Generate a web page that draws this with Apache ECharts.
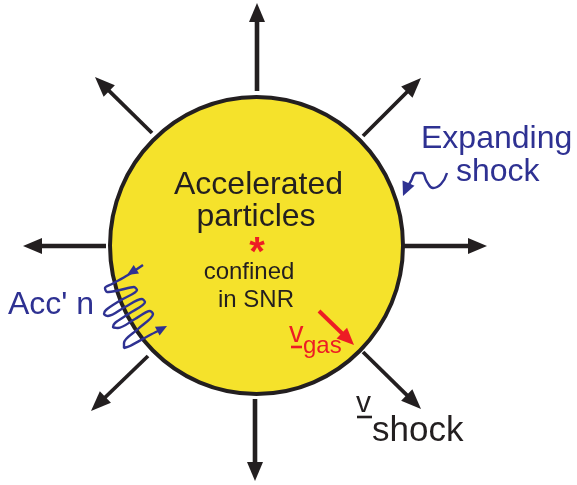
<!DOCTYPE html>
<html>
<head>
<meta charset="utf-8">
<script src="https://cdn.jsdelivr.net/npm/echarts@6/dist/echarts.min.js"></script>
<style>
  html, body { margin: 0; padding: 0; background: #fff; }
  #main { width: 577px; height: 485px; }
</style>
</head>
<body>
<div id="main"></div>
<script>
// ---- diagram data (picture coordinates, y downwards) ----
// remnant shell: centre x, centre y, radius x, radius y
var shell = [[256.5, 245.5, 146.5, 148.5]];

// shock arrows: from x, from y, tip x, tip y
var shockArrows = [
  [257, 91, 257, 3],
  [255, 399, 255, 481],
  [106, 246, 23, 246],
  [404, 246, 487, 246]
];
var shockDiagonals = [
  [152, 133, 95, 77],
  [363, 136, 421, 78],
  [148, 356, 91, 411],
  [363, 352, 421, 409]
];
var gasArrow = [[319, 311, 354, 345]];

// acceleration coil path (traced)
var coil = [
  [143, 265], [128, 275], [112, 284], [105, 288], [107, 292], [120, 290], [134, 287],
  [137, 290], [121, 300], [106, 310], [104, 314], [108, 316], [125, 307], [142, 299],
  [145, 302], [130, 313], [115, 323], [113, 327], [118, 328], [135, 319], [150, 311],
  [153, 314], [138, 329], [124, 343], [124, 348], [130, 346], [150, 335], [158, 331]
];
// wavy pointer next to "Expanding shock"
var wave = [
  [447, 173], [441, 184], [433, 188], [427, 182], [422, 173], [416, 173], [411, 181], [408, 186]
];
// small arrowheads: tip x, tip y, from x, from y
var coilHeads = [[127, 275, 143, 265], [167, 326, 150, 335]];
var waveHeads = [[403, 196, 409, 182]];

// text: string, anchor x, baseline y
var labelText = ['Accelerated', 'particles', 'confined', 'in SNR', 'Expanding', 'shock', "Acc' n", 'v', 'gas', 'v', 'shock', '*'];
var labelPos = [
  [258.5, 195], [256, 227], [249, 280], [256, 308], [421, 149], [456, 182],
  [8, 315], [289, 343], [303, 354], [356, 413], [372, 442], [257, 266]
];
// underlines: x1, x2, y
var underRed = [[291, 302, 347]];
var underInk = [[357, 372, 417]];

var ink = '#231f20', blue = '#2e3192', red = '#ed1c24', yellow = '#f5e22b';
var FONT = "'Liberation Sans', Arial, sans-serif";
var labelLook = [
  [32, ink, 'center', 'normal'], [32, ink, 'center', 'normal'],
  [24, ink, 'center', 'normal'], [24, ink, 'center', 'normal'],
  [32, blue, 'left', 'normal'], [32, blue, 'left', 'normal'], [32, blue, 'left', 'normal'],
  [29, red, 'left', 'normal'], [24, red, 'left', 'normal'],
  [30, ink, 'left', 'normal'], [35, ink, 'left', 'normal'],
  [40, red, 'center', 'bold']
];

function arrowItem(width, headLen, headHalf, color) {
  return function (params, api) {
    var a = api.coord([api.value(0), api.value(1)]);
    var b = api.coord([api.value(2), api.value(3)]);
    var dx = b[0] - a[0], dy = b[1] - a[1];
    var L = Math.sqrt(dx * dx + dy * dy);
    var ux = dx / L, uy = dy / L;
    var bx = b[0] - ux * headLen, by = b[1] - uy * headLen;
    return {
      type: 'group',
      children: [
        { type: 'line', shape: { x1: a[0], y1: a[1], x2: bx + ux * 2, y2: by + uy * 2 },
          style: { stroke: color, lineWidth: width, lineCap: 'butt' } },
        { type: 'polygon',
          shape: { points: [[b[0], b[1]], [bx - uy * headHalf, by + ux * headHalf], [bx + uy * headHalf, by - ux * headHalf]] },
          style: { fill: color } }
      ]
    };
  };
}

function headItem(headLen, headHalf, color) {
  return function (params, api) {
    var b = api.coord([api.value(0), api.value(1)]);
    var a = api.coord([api.value(2), api.value(3)]);
    var dx = b[0] - a[0], dy = b[1] - a[1];
    var L = Math.sqrt(dx * dx + dy * dy);
    var ux = dx / L, uy = dy / L;
    var bx = b[0] - ux * headLen, by = b[1] - uy * headLen;
    return {
      type: 'polygon',
      shape: { points: [[b[0], b[1]], [bx - uy * headHalf, by + ux * headHalf], [bx + uy * headHalf, by - ux * headHalf]] },
      style: { fill: color }
    };
  };
}

function underItem(color) {
  return function (params, api) {
    var p1 = api.coord([api.value(0), api.value(2)]);
    var p2 = api.coord([api.value(1), api.value(2)]);
    return { type: 'line', shape: { x1: p1[0], y1: p1[1], x2: p2[0], y2: p2[1] },
      style: { stroke: color, lineWidth: 2.6 } };
  };
}

var chart = echarts.init(document.getElementById('main'));
chart.setOption({
  animation: false,
  grid: { left: 0, right: 0, top: 0, bottom: 0 },
  xAxis: { type: 'value', min: 0, max: 577, show: false },
  yAxis: { type: 'value', min: 0, max: 485, inverse: true, show: false },
  series: [
    {
      type: 'custom', z: 1, data: shell,
      renderItem: function (params, api) {
        var c = api.coord([api.value(0), api.value(1)]);
        var s = api.size([api.value(2), api.value(3)]);
        return { type: 'ellipse', shape: { cx: c[0], cy: c[1], rx: s[0], ry: s[1] },
          style: { fill: yellow, stroke: ink, lineWidth: 4 } };
      }
    },
    { type: 'custom', z: 2, data: shockArrows, renderItem: arrowItem(4.6, 19, 8, ink) },
    { type: 'custom', z: 2, data: shockDiagonals, renderItem: arrowItem(3.8, 20, 8, ink) },
    { type: 'custom', z: 3, data: gasArrow, renderItem: arrowItem(4, 17, 7.5, red) },
    {
      type: 'line', z: 4, data: coil, smooth: 0.3, symbol: 'none',
      lineStyle: { color: blue, width: 2.4 }
    },
    {
      type: 'line', z: 4, data: wave, smooth: 0.5, symbol: 'none',
      lineStyle: { color: blue, width: 2.4 }
    },
    { type: 'custom', z: 5, data: coilHeads, renderItem: headItem(11, 5, blue) },
    { type: 'custom', z: 5, data: waveHeads, renderItem: headItem(14, 6.5, blue) },
    { type: 'custom', z: 5, data: underRed, renderItem: underItem(red) },
    { type: 'custom', z: 5, data: underInk, renderItem: underItem(ink) },
    {
      type: 'custom', z: 6,
      data: labelPos.map(function (p, i) { return [p[0], p[1], i]; }),
      renderItem: function (params, api) {
        var i = api.value(2);
        var look = labelLook[i];
        var p = api.coord([api.value(0), api.value(1)]);
        return {
          type: 'text', x: p[0], y: p[1] - look[0] * 0.31,
          style: {
            text: labelText[i], fill: look[1], align: look[2], verticalAlign: 'middle',
            textAlign: look[2], textVerticalAlign: 'middle',
            font: look[3] + ' ' + look[0] + 'px ' + FONT
          }
        };
      }
    }
  ]
});
</script>
</body>
</html>
